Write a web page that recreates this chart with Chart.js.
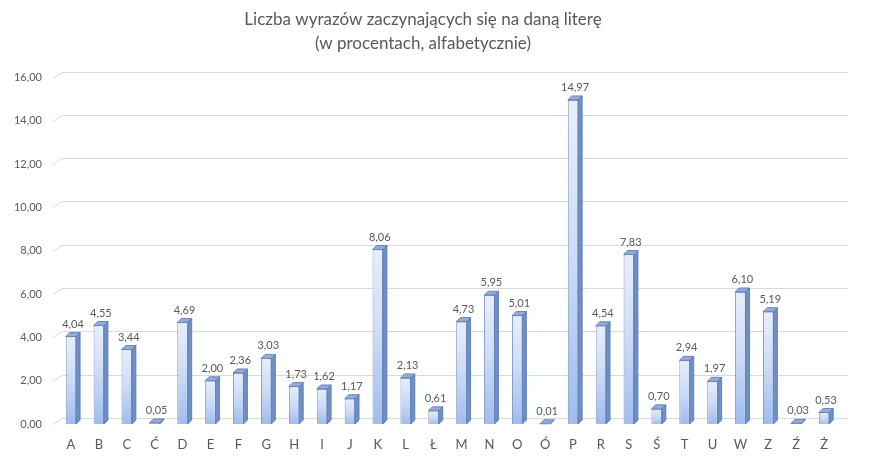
<!DOCTYPE html>
<html>
<head>
<meta charset="utf-8">
<script src="https://cdn.jsdelivr.net/npm/chart.js@4.4.1/dist/chart.umd.min.js"></script>
<style>
  body { margin: 0; background: #fff; }
  canvas { display: block; }
</style>
</head>
<body>
<canvas id="chart" width="870" height="458"></canvas>
<script>
// Letters and share of words (percent)
const letters = ["A", "B", "C", "Ć", "D", "E", "F", "G", "H", "I", "J", "K", "L", "Ł",
  "M", "N", "O", "Ó", "P", "R", "S", "Ś", "T", "U", "W", "Z", "Ź", "Ż"];
const percents = [4.04, 4.55, 3.44, 0.05, 4.69, 2.00, 2.36, 3.03, 1.73, 1.62, 1.17, 8.06, 2.13, 0.61,
  4.73, 5.95, 5.01, 0.01, 14.97, 4.54, 7.83, 0.70, 2.94, 1.97, 6.10, 5.19, 0.03, 0.53];
const titleLines = ["Liczba wyrazów zaczynających się na daną literę", "(w procentach, alfabetycznie)"];

const FONT = "Lato, 'Open Sans', sans-serif";
const DEPTH = 4;
const fmt = v => v.toFixed(2).replace(".", ",");

// soft gridlines with a little perspective, drawn under the bars
const floorGrid = {
  id: "floorGrid",
  beforeDatasetsDraw(chart) {
    const { ctx, chartArea, scales } = chart;
    ctx.save();
    ctx.strokeStyle = "#d9d9d9";
    ctx.lineWidth = 1;
    scales.y.ticks.forEach(t => {
      const y = Math.round(scales.y.getPixelForValue(t.value)) + 0.5;
      ctx.beginPath();
      ctx.moveTo(chartArea.left - 4, y);
      ctx.lineTo(chartArea.left + 5, y - 6);
      ctx.lineTo(chartArea.right + 10, y - 6);
      ctx.stroke();
    });
    ctx.restore();
  }
};

// side + top faces and value labels
const bars3d = {
  id: "bars3d",
  afterDatasetsDraw(chart) {
    const { ctx } = chart;
    const meta = chart.getDatasetMeta(0);
    ctx.save();
    meta.data.forEach((bar, i) => {
      const { x, y, base, width } = bar.getProps(["x", "y", "base", "width"], true);
      const l = x - width / 2, r = x + width / 2;
      // side
      ctx.beginPath();
      ctx.moveTo(r, y);
      ctx.lineTo(r + DEPTH, y - DEPTH);
      ctx.lineTo(r + DEPTH, base - DEPTH);
      ctx.lineTo(r, base);
      ctx.closePath();
      ctx.fillStyle = "#7090c4";
      ctx.fill();
      ctx.strokeStyle = "#5475ae";
      ctx.lineWidth = 0.8;
      ctx.stroke();
      // top
      ctx.beginPath();
      ctx.moveTo(l, y);
      ctx.lineTo(l + DEPTH, y - DEPTH);
      ctx.lineTo(r + DEPTH, y - DEPTH);
      ctx.lineTo(r, y);
      ctx.closePath();
      ctx.fillStyle = "#93acd9";
      ctx.fill();
      ctx.stroke();
      // label
      ctx.fillStyle = "#595959";
      ctx.font = "11px " + FONT;
      ctx.textAlign = "center";
      ctx.textBaseline = "bottom";
      ctx.fillText(fmt(percents[i]), x + DEPTH / 2, y - DEPTH - 3);
    });
    ctx.restore();
  }
};

new Chart(document.getElementById("chart"), {
  type: "bar",
  data: {
    labels: letters,
    datasets: [{
      data: percents,
      backgroundColor(c) {
        const ch = c.chart;
        if (!ch.chartArea || c.raw === undefined) return "#c4d6f5";
        const ys = ch.scales.y;
        const top = ys.getPixelForValue(c.raw);
        const bot = ys.getPixelForValue(0);
        const g = ch.ctx.createLinearGradient(0, top - 1, 0, bot + 1);
        g.addColorStop(0, "#e8effc");
        g.addColorStop(0.5, "#cbdbf7");
        g.addColorStop(1, "#9ebcef");
        return g;
      },
      borderColor: "#5475ae",
      borderWidth: 0.8,
      barPercentage: 0.37,
      categoryPercentage: 1
    }]
  },
  options: {
    responsive: false,
    animation: false,
    layout: { padding: { left: 8, right: 32, top: 0, bottom: 0 } },
    plugins: {
      legend: { display: false },
      tooltip: { enabled: false },
      title: {
        display: true,
        text: titleLines,
        color: "#595959",
        font: { family: FONT, size: 17, weight: "normal", lineHeight: 1.4 },
        padding: { top: 8, bottom: 22 }
      }
    },
    scales: {
      x: {
        grid: { display: false },
        border: { display: false },
        ticks: { color: "#595959", font: { family: FONT, size: 13 }, padding: 5, maxRotation: 0 },
        afterFit(s) { s.height = 34; }
      },
      y: {
        min: 0,
        max: 16,
        grid: { display: false },
        border: { display: false },
        ticks: {
          stepSize: 2,
          color: "#595959",
          font: { family: FONT, size: 11 },
          padding: 7,
          callback: v => fmt(v)
        },
        afterFit(s) { s.width = 49; }
      }
    }
  },
  plugins: [floorGrid, bars3d]
});
</script>
</body>
</html>
